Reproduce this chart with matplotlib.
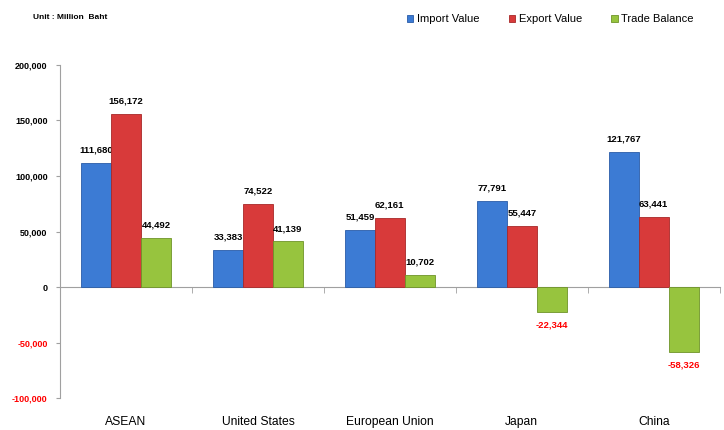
import matplotlib.pyplot as plt
import matplotlib.ticker as ticker
import matplotlib.transforms as mtransforms
import numpy as np

plt.rcParams['font.family'] = ['Liberation Sans Narrow', 'Liberation Sans', 'DejaVu Sans']

# Datos
categories = ["ASEAN", "United States", "European Union", "Japan", "China"]
import_value = [111680, 33383, 51459, 77791, 121767]
export_value = [156172, 74522, 62161, 55447, 63441]
trade_balance = [44492, 41139, 10702, -22344, -58326]

series = [
    ("Import Value", import_value, "#3c7bd4", "#2a5ca8"),
    ("Export Value", export_value, "#d83a3a", "#a82828"),
    ("Trade Balance", trade_balance, "#97c43e", "#6e9428"),
]

fig = plt.figure(figsize=(7.24, 4.30), dpi=100)
ax = fig.add_axes([0.083, 0.074, 0.911, 0.775])

x = np.arange(len(categories))
width = 0.227

for i, (name, vals, color, edge) in enumerate(series):
    pos = x + (i - 1) * width
    bars = ax.bar(pos, vals, width, color=color, edgecolor=edge, linewidth=0.6,
                  label=name, zorder=3)
    for b, v in zip(bars, vals):
        cx = b.get_x() + b.get_width() / 2
        if v >= 0:
            ax.annotate(f"{v:,}", (cx, v), xytext=(0, 6), textcoords="offset points",
                        ha="center", va="bottom", fontsize=6.8, fontweight="bold", color="black")
        else:
            ax.annotate(f"{v:,}", (cx, v), xytext=(0, -6), textcoords="offset points",
                        ha="center", va="top", fontsize=6.8, fontweight="bold", color="red")

ax.set_xlim(-0.5, len(categories) - 0.5)
ax.set_ylim(-100000, 200000)
ax.yaxis.set_major_locator(ticker.MultipleLocator(50000))
ax.yaxis.set_major_formatter(ticker.FuncFormatter(lambda y, _: f"{int(y):,}"))
ax.tick_params(axis="y", labelsize=6.5, length=3, color="#a0a0a0", pad=6)
for lbl in ax.get_yticklabels():
    lbl.set_fontweight("bold")
    if "-" in lbl.get_text():
        lbl.set_color("red")

# Eje horizontal en cero
ax.spines["top"].set_visible(False)
ax.spines["right"].set_visible(False)
ax.spines["left"].set_color("#a0a0a0")
ax.spines["bottom"].set_position(("data", 0))
ax.spines["bottom"].set_color("#a0a0a0")
ax.set_xticks([])
ax.set_xticks(np.arange(0.5, len(categories)), minor=True)
ax.tick_params(axis="x", which="minor", length=4, color="#a0a0a0", direction="out")

trans = mtransforms.blended_transform_factory(ax.transData, ax.transAxes)
for xi, cat in zip(x, categories):
    ax.text(xi, -0.07, cat, transform=trans, ha="center", va="center", fontsize=8.7)

fig.text(0.045, 0.96, "Unit : Million  Baht", fontsize=6, fontweight="bold", ha="left", va="center")

fig.legend(loc="upper right", bbox_to_anchor=(0.972, 0.99), ncol=3, frameon=False,
           fontsize=8, handlelength=0.6, handleheight=0.6, handletextpad=0.3,
           columnspacing=2.65)

fig.savefig("out.png", dpi=100)
